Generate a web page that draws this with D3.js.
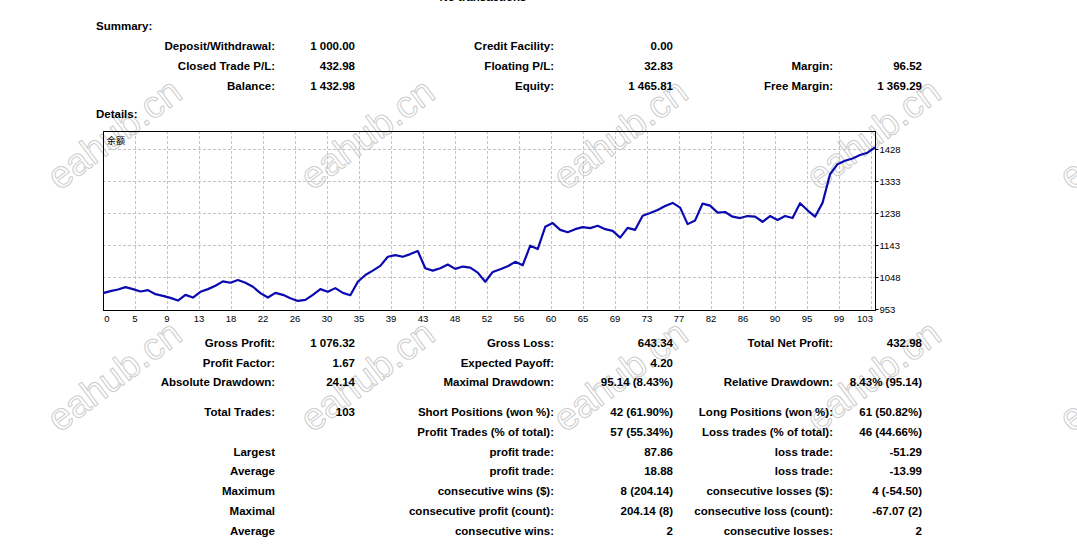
<!DOCTYPE html>
<html>
<head>
<meta charset="utf-8">
<script src="https://cdn.jsdelivr.net/npm/d3@7"></script>
<style>
  html, body { margin: 0; padding: 0; background: #fff; }
  svg { display: block; }
  .b { font-family: "Liberation Sans", Arial, sans-serif; font-weight: bold; font-size: 11.5px; fill: #000; }
  .ax { font-family: "Liberation Sans", Arial, sans-serif; font-size: 9.5px; fill: #000; }
</style>
</head>
<body>
<svg id="c" width="1077" height="547"></svg>
<script>
// ---- data ----
const trades = d3.range(0, 104);
const balance = [
  1000, 1006, 1011, 1018, 1012, 1005, 1009, 997, 992, 986,
  978, 995, 987, 1004, 1012, 1022, 1035, 1031, 1039, 1031,
  1019, 1000, 987, 1001, 995, 985, 977, 980, 995, 1012,
  1004, 1015, 1001, 994, 1034, 1054, 1067, 1081, 1108, 1113,
  1108, 1116, 1125, 1074, 1067, 1074, 1085, 1072, 1079, 1076,
  1061, 1034, 1063, 1071, 1080, 1093, 1083, 1141, 1131, 1197,
  1208, 1188, 1181, 1190, 1196, 1193, 1200, 1190, 1185, 1165,
  1194, 1188, 1230, 1238, 1247, 1259, 1268, 1254, 1205, 1216,
  1266, 1260, 1239, 1241, 1227, 1223, 1229, 1227, 1212, 1229,
  1217, 1229, 1223, 1267, 1246, 1227, 1268, 1353, 1383, 1393,
  1400, 1410, 1417, 1432.98
];
const yTicks = [953, 1048, 1143, 1238, 1333, 1428];
const xTickLabels = ["0","5","9","13","18","22","26","30","35","39","43","48","52","56","60","65","69","73","77","82","86","90","95","99","103"];
const seriesName = "余额";

const summaryRows = [
  ["Deposit/Withdrawal:", "1 000.00", "Credit Facility:", "0.00", "", ""],
  ["Closed Trade P/L:", "432.98", "Floating P/L:", "32.83", "Margin:", "96.52"],
  ["Balance:", "1 432.98", "Equity:", "1 465.81", "Free Margin:", "1 369.29"]
];
const detailRows = [
  ["Gross Profit:", "1 076.32", "Gross Loss:", "643.34", "Total Net Profit:", "432.98"],
  ["Profit Factor:", "1.67", "Expected Payoff:", "4.20", "", ""],
  ["Absolute Drawdown:", "24.14", "Maximal Drawdown:", "95.14 (8.43%)", "Relative Drawdown:", "8.43% (95.14)"],
  ["Total Trades:", "103", "Short Positions (won %):", "42 (61.90%)", "Long Positions (won %):", "61 (50.82%)"],
  ["", "", "Profit Trades (% of total):", "57 (55.34%)", "Loss trades (% of total):", "46 (44.66%)"],
  ["Largest", "", "profit trade:", "87.86", "loss trade:", "-51.29"],
  ["Average", "", "profit trade:", "18.88", "loss trade:", "-13.99"],
  ["Maximum", "", "consecutive wins ($):", "8 (204.14)", "consecutive losses ($):", "4 (-54.50)"],
  ["Maximal", "", "consecutive profit (count):", "204.14 (8)", "consecutive loss (count):", "-67.07 (2)"],
  ["Average", "", "consecutive wins:", "2", "consecutive losses:", "2"]
];

// ---- layout ----
const svg = d3.select("#c");
const colRight = [275, 355, 554, 673, 833, 922];
const summaryBase = [49.5, 69.5, 89.5];
const detailBase = [347, 367, 386, 415.5, 435.5, 455.5, 474.5, 494.5, 514.5, 534.5];

// watermarks (behind everything)
const wmX = [115, 368, 621, 874, 1127];
const wmY = [135, 377];
const wmText = "eahub.cn";
wmY.forEach(cy => wmX.forEach(cx => {
  svg.append("text")
    .attr("transform", `translate(${cx},${cy}) rotate(-37)`)
    .attr("text-anchor", "middle").attr("dy", "0.3em")
    .attr("font-family", "'Liberation Sans', Arial, sans-serif")
    .attr("font-size", 38)
    .attr("fill", "none").attr("stroke", "#cdcdcd").attr("stroke-width", 1)
    .attr("stroke-linejoin", "round")
    .text(wmText);
}));

// top cut-off title
svg.append("text").attr("class", "b").attr("x", 483).attr("y", 0.5)
  .attr("text-anchor", "middle").text("No transactions");

svg.append("text").attr("class", "b").attr("x", 96).attr("y", 29.5).text("Summary:");
svg.append("text").attr("class", "b").attr("x", 96).attr("y", 117.5).text("Details:");

function table(rows, bases) {
  rows.forEach((r, i) => {
    r.forEach((t, j) => {
      if (!t) return;
      svg.append("text").attr("class", "b")
        .attr("x", colRight[j]).attr("y", bases[i])
        .attr("text-anchor", "end").text(t);
    });
  });
}
table(summaryRows, summaryBase);
table(detailRows, detailBase);

// ---- chart ----
const L = 103, R = 875, T = 131, B = 310;
const x = d3.scaleLinear().domain([0, 103]).range([L, R]);
const y = d3.scaleLinear().domain([953, 1428]).range([309, 149]);
const gx = d3.scaleLinear().domain([0, 24]).range([L, L + 768]);

const g = svg.append("g");
// grid
g.selectAll("line.vg").data(d3.range(1, 25)).enter().append("line")
  .attr("x1", d => gx(d) + 0.5).attr("x2", d => gx(d) + 0.5)
  .attr("y1", T).attr("y2", B)
  .attr("stroke", "#c4c4c4").attr("stroke-dasharray", "3,2");
g.selectAll("line.hg").data(yTicks.slice(1)).enter().append("line")
  .attr("x1", L).attr("x2", R)
  .attr("y1", d => Math.round(y(d)) + 0.5).attr("y2", d => Math.round(y(d)) + 0.5)
  .attr("stroke", "#c4c4c4").attr("stroke-dasharray", "3,2");

// frame
g.append("rect").attr("x", L + 0.5).attr("y", T + 0.5)
  .attr("width", R - L).attr("height", B - T)
  .attr("fill", "none").attr("stroke", "#000").attr("stroke-width", 1);

// right axis
const yAxis = d3.axisRight(y).tickValues(yTicks).tickFormat(d3.format("d")).tickSize(3).tickPadding(1);
const ya = g.append("g").attr("transform", `translate(${R + 0.5},0)`).call(yAxis);
ya.select(".domain").remove();
ya.attr("font-size", null).attr("font-family", null);
ya.selectAll("text").attr("class", "ax");
ya.selectAll("line").attr("stroke", "#000");

// bottom labels
g.selectAll("text.xl").data(xTickLabels).enter().append("text")
  .attr("class", "ax")
  .attr("x", (d, i) => i === 0 ? gx(i) + 4 : (i === xTickLabels.length - 1 ? gx(i) - 6 : gx(i)))
  .attr("y", 321.5)
  .attr("text-anchor", "middle").text(d => d);

// series name
g.append("text").attr("x", 107).attr("y", 144)
  .attr("font-family", "'Noto Sans CJK SC', sans-serif").attr("font-size", 9)
  .attr("fill", "#000").text(seriesName);

// line
const line = d3.line().x((d, i) => x(trades[i])).y(d => y(d));
g.append("path").datum(balance)
  .attr("d", line).attr("fill", "none")
  .attr("stroke", "#0a0ab0").attr("stroke-width", 2.2)
  .attr("stroke-linejoin", "round");
</script>
</body>
</html>
